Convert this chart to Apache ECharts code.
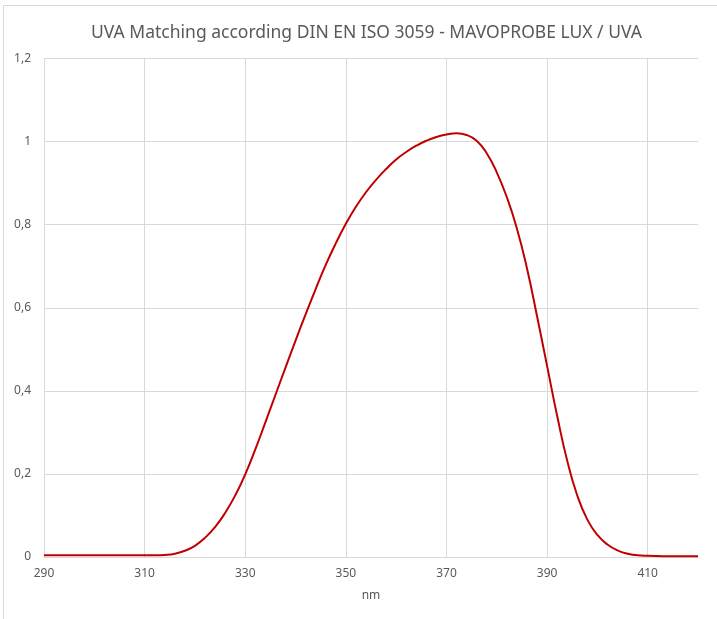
<!DOCTYPE html>
<html>
<head>
<meta charset="utf-8">
<script src="https://cdn.jsdelivr.net/npm/echarts@6/dist/echarts.min.js"></script>
<style>
  html, body { margin: 0; padding: 0; background: #fff; }
  #main { width: 717px; height: 619px; }
</style>
</head>
<body>
<div id="main"></div>
<script>
// wavelength (nm) and relative sensitivity
const wavelengths = [290, 295, 300, 305, 310, 312, 314, 316, 318, 320, 322, 324, 326, 328,
  330, 332, 334, 336, 338, 340, 342, 344, 346, 348, 350, 352, 354, 356, 358, 360,
  362, 364, 366, 368, 370, 372, 374, 376, 378, 380, 382, 384, 386, 388, 390, 392,
  394, 396, 398, 400, 402, 404, 406, 408, 410, 415, 420]
const sensitivity = [0.004, 0.004, 0.004, 0.004, 0.004, 0.004, 0.005, 0.008, 0.015, 0.027, 0.046, 0.072, 0.106, 0.148,
  0.199, 0.259, 0.324, 0.39, 0.456, 0.521, 0.584, 0.645, 0.703, 0.755, 0.802, 0.843, 0.878, 0.908, 0.934, 0.957,
  0.975, 0.99, 1.002, 1.011, 1.017, 1.02, 1.016, 1.002, 0.972, 0.926, 0.866, 0.791, 0.695, 0.58, 0.46, 0.34,
  0.232, 0.148, 0.09, 0.053, 0.03, 0.016, 0.008, 0.004, 0.003, 0.002, 0.002]
const yTicks = [0, 0.2, 0.4, 0.6, 0.8, 1, 1.2]

const chart = echarts.init(document.getElementById('main'))
const fontFamily = 'Noto Sans, sans-serif'
const grey = '#595959'

chart.setOption({
  backgroundColor: '#fff',
  animation: false,
  textStyle: { fontFamily: fontFamily },
  graphic: [{
    type: 'rect',
    shape: { x: 3.5, y: 5.5, width: 800, height: 800 },
    style: { fill: 'none', stroke: '#d9d9d9', lineWidth: 1 },
    silent: true
  }],
  title: {
    text: 'UVA Matching according DIN EN ISO 3059 - MAVOPROBE LUX / UVA',
    left: 86,
    top: 19,
    textStyle: { fontSize: 17.5, fontWeight: 'normal', color: grey, fontFamily: fontFamily }
  },
  grid: { left: 44, right: 19, top: 58.5, bottom: 62, containLabel: false },
  xAxis: {
    type: 'value',
    min: 290,
    max: 420,
    interval: 20,
    name: 'nm',
    nameLocation: 'middle',
    nameGap: 33,
    nameTextStyle: { color: grey, fontSize: 12 },
    axisLine: { show: true, lineStyle: { color: '#d9d9d9', width: 1 } },
    axisTick: { show: false },
    axisLabel: { color: grey, fontSize: 12, margin: 11, showMaxLabel: false },
    splitLine: { show: true, showMaxLine: false, lineStyle: { color: '#d9d9d9', width: 1 } }
  },
  yAxis: {
    type: 'value',
    min: yTicks[0],
    max: yTicks[yTicks.length - 1],
    interval: 0.2,
    axisLine: { show: false },
    axisTick: { show: false },
    axisLabel: {
      color: grey,
      fontSize: 12,
      margin: 13,
      formatter: v => String(Math.round(v * 10) / 10).replace('.', ',')
    },
    splitLine: { show: true, lineStyle: { color: '#d9d9d9', width: 1 } }
  },
  series: [{
    type: 'line',
    data: wavelengths.map((w, i) => [w, sensitivity[i]]),
    smooth: 0.5,
    showSymbol: false,
    lineStyle: { color: '#c00000', width: 2 }
  }]
})
</script>
</body>
</html>
